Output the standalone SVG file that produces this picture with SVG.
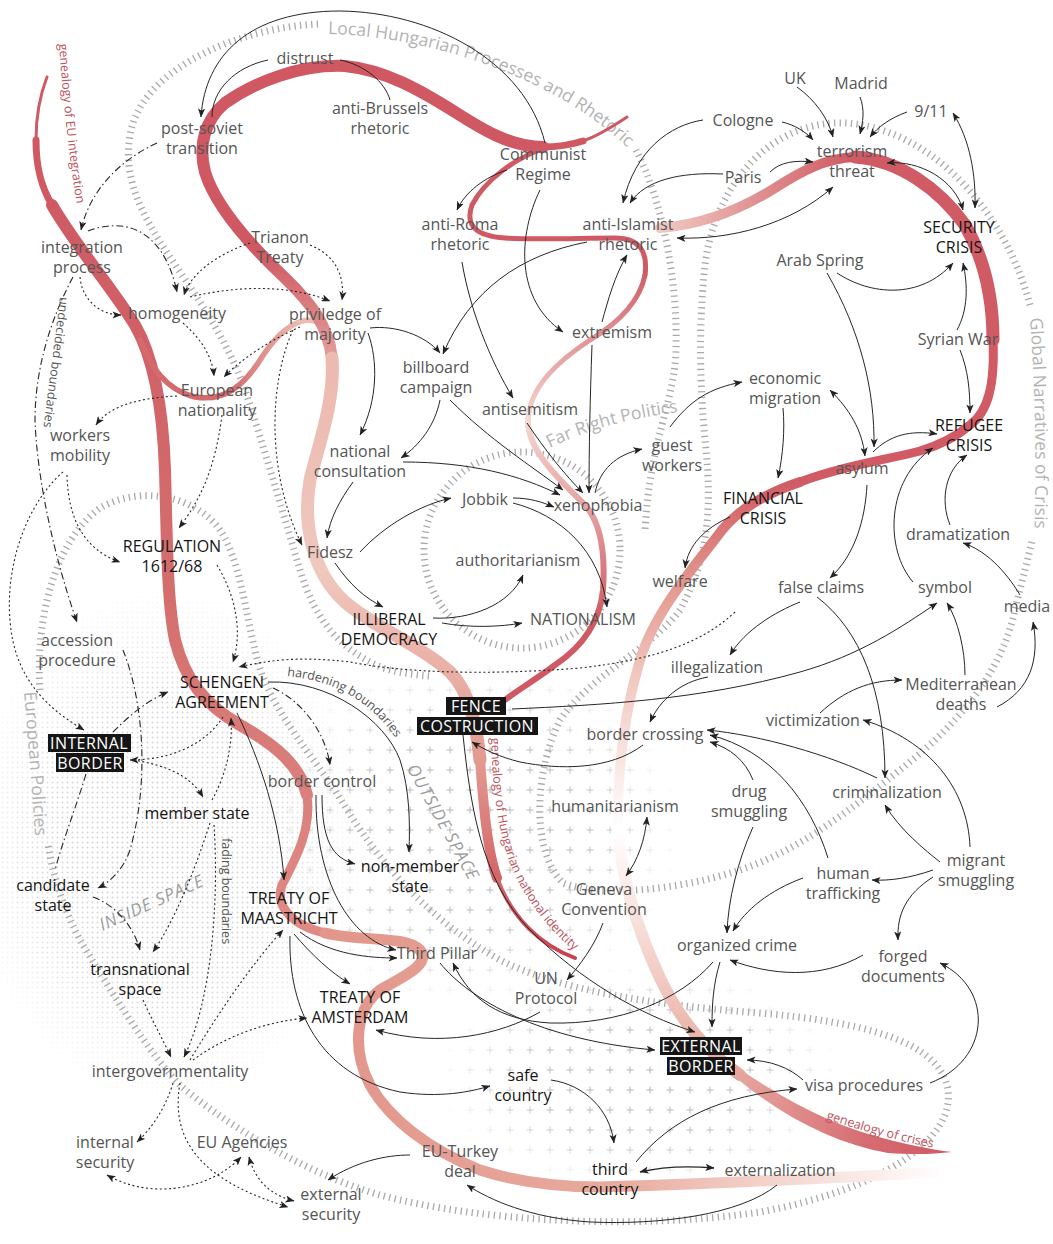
<svg xmlns="http://www.w3.org/2000/svg" width="1053" height="1244" viewBox="0 0 1053 1244">
<style>
.t{font-family:"Open Sans","Liberation Sans",sans-serif;font-size:16px;fill:#555;text-anchor:middle}
.k{fill:#151515}
.w{fill:#fff;letter-spacing:0.4px}
.box{fill:#151515}
.rl{font-family:"Open Sans","Liberation Sans",sans-serif;font-size:17.5px;fill:#b3b3b3}
.sm{font-family:"Open Sans","Liberation Sans",sans-serif;font-size:12.5px;fill:#555}
.gn{font-family:"Open Sans","Liberation Sans",sans-serif;font-size:12.5px;fill:#c0505a}
.sp{font-family:"Open Sans","Liberation Sans",sans-serif;font-size:17px;font-style:italic;fill:#9c9c9c;letter-spacing:1px;text-anchor:middle}
.tk{fill:none;stroke:#a9a9a9;stroke-width:7;stroke-dasharray:1.3 4.3}
.c{fill:none;stroke:#262626;stroke-width:1}
.d{fill:none;stroke:#262626;stroke-width:1.1;stroke-dasharray:2 2.6}
.dd{fill:none;stroke:#262626;stroke-width:1.1;stroke-dasharray:7 3 1.5 3}
.e{marker-end:url(#ah)}
.s{marker-start:url(#ah)}
.rb{fill:none;stroke-linecap:round}
</style>
<defs>
<marker id="ah" viewBox="0 0 10 8" refX="9.5" refY="4" markerWidth="9" markerHeight="7.2" markerUnits="userSpaceOnUse" orient="auto-start-reverse"><path d="M0,0 L10,4 L0,8 L2.5,4 z" fill="#222"/></marker>
<pattern id="dots" width="5" height="5" patternUnits="userSpaceOnUse"><circle cx="2.5" cy="2.5" r="0.95" fill="#cdcdcd"/></pattern>
<pattern id="plus" width="20" height="20" patternUnits="userSpaceOnUse"><path d="M10,6.5v7M6.5,10h7" stroke="#b3b3b3" stroke-width="1"/></pattern>
<radialGradient id="rf"><stop offset="0" stop-color="#fff" stop-opacity="1"/><stop offset="0.55" stop-color="#fff" stop-opacity="0.85"/><stop offset="1" stop-color="#fff" stop-opacity="0"/></radialGradient>
<mask id="mDots" maskUnits="userSpaceOnUse" x="0" y="0" width="1053" height="1244"><ellipse cx="165" cy="845" rx="200" ry="260" fill="url(#rf)"/></mask>
<mask id="mPlus" maskUnits="userSpaceOnUse" x="0" y="0" width="1053" height="1244"><ellipse cx="470" cy="830" rx="215" ry="180" fill="url(#rf)"/><ellipse cx="640" cy="1078" rx="205" ry="115" fill="url(#rf)"/></mask>
<linearGradient id="gR1c" gradientUnits="userSpaceOnUse" x1="0" y1="200" x2="0" y2="930"><stop offset="0" stop-color="#cf5a63"/><stop offset="0.55" stop-color="#d46f6e"/><stop offset="1" stop-color="#df8b85"/></linearGradient>
<linearGradient id="gR1d" gradientUnits="userSpaceOnUse" x1="350" y1="0" x2="945" y2="0"><stop offset="0" stop-color="#e3978c"/><stop offset="0.45" stop-color="#e8ab9f"/><stop offset="0.72" stop-color="#f4d6ce"/><stop offset="1" stop-color="#ffffff"/></linearGradient>
<linearGradient id="gR2b" gradientUnits="userSpaceOnUse" x1="0" y1="250" x2="0" y2="400"><stop offset="0" stop-color="#cf5862"/><stop offset="1" stop-color="#ecbab0"/></linearGradient>
<linearGradient id="gR2c" gradientUnits="userSpaceOnUse" x1="0" y1="380" x2="0" y2="760"><stop offset="0" stop-color="#ecbab0"/><stop offset="0.5" stop-color="#f0c8be"/><stop offset="1" stop-color="#e39a90"/></linearGradient>
<linearGradient id="gR2d" gradientUnits="userSpaceOnUse" x1="0" y1="760" x2="0" y2="958"><stop offset="0" stop-color="#e39a90"/><stop offset="0.5" stop-color="#d66e70"/><stop offset="1" stop-color="#c9404e"/></linearGradient>
<linearGradient id="gR3b" gradientUnits="userSpaceOnUse" x1="0" y1="270" x2="0" y2="420"><stop offset="0" stop-color="#d05a63"/><stop offset="1" stop-color="#f5d9d2"/></linearGradient>
<linearGradient id="gR3c" gradientUnits="userSpaceOnUse" x1="0" y1="420" x2="0" y2="620"><stop offset="0" stop-color="#f5d9d2"/><stop offset="1" stop-color="#d05a63"/></linearGradient>
<linearGradient id="gR4a" gradientUnits="userSpaceOnUse" x1="660" y1="0" x2="850" y2="0"><stop offset="0" stop-color="#f0c9c1"/><stop offset="1" stop-color="#d05b64"/></linearGradient>
<linearGradient id="gR4d" gradientUnits="userSpaceOnUse" x1="0" y1="482" x2="0" y2="830"><stop offset="0" stop-color="#d05b64"/><stop offset="0.25" stop-color="#e08f88"/><stop offset="0.55" stop-color="#f1c6be"/><stop offset="1" stop-color="#ffffff"/></linearGradient>
<linearGradient id="gR4e" gradientUnits="userSpaceOnUse" x1="0" y1="830" x2="0" y2="1075"><stop offset="0" stop-color="#ffffff"/><stop offset="0.35" stop-color="#f8e2dd"/><stop offset="0.75" stop-color="#eebdb4"/><stop offset="1" stop-color="#e6a59c"/></linearGradient>
<linearGradient id="gR4f" gradientUnits="userSpaceOnUse" x1="740" y1="0" x2="950" y2="0"><stop offset="0" stop-color="#e6a59c"/><stop offset="0.6" stop-color="#d66c72"/><stop offset="1" stop-color="#cf5863"/></linearGradient>
<linearGradient id="gR5" gradientUnits="userSpaceOnUse" x1="230" y1="0" x2="300" y2="0"><stop offset="0" stop-color="#d46a6c"/><stop offset="1" stop-color="#ecbcb1"/></linearGradient>
<path id="tpL" d="M328,34 C430,36 555,78 628,148"/>
<path id="tpG" d="M1030,318 C1035,390 1037,460 1034,545"/>
<path id="tpE" d="M24,692 C28,740 32,790 36,850"/>
<path id="tpF" d="M550,448 Q607,419 696,410"/>
<path id="tpH" d="M287,676 C330,680 370,698 398,742"/>
<path id="tpFa" d="M222,838 L222,960"/>
<path id="tpU" d="M60,297 C55,340 48,390 42,440"/>
<path id="tpGE" d="M59,44 C63,100 69,160 79,218"/>
<path id="tpGH" d="M491,738 C493,800 500,850 520,885 C540,920 560,940 592,966"/>
<path id="tpGC" d="M826,1119 C860,1130 900,1142 950,1151"/>
</defs>
<rect width="1053" height="1244" fill="#fff"/>

<g id="textures">
<rect x="0" y="560" width="400" height="580" fill="url(#dots)" mask="url(#mDots)"/>
<rect x="230" y="620" width="650" height="600" fill="url(#plus)" mask="url(#mPlus)"/>
</g>

<g id="rings">
<path class="tk" d="M318,24 C240,28 155,65 134,120 C122,155 130,190 150,225 C175,270 220,320 245,390 C265,450 285,520 300,570 C315,620 340,650 383,668 C400,673 415,675 430,676"/>
<path class="tk" d="M636,150 C662,200 678,280 676,350 C675,400 650,440 645,530"/>
<path class="tk" d="M1030,305 C1005,210 930,128 845,123 C770,120 715,185 705,265 C698,330 700,390 706,450 C712,510 708,560 680,610 C650,650 590,675 560,720 C535,770 530,850 563,883 C600,898 680,890 740,870 C800,850 850,810 900,770 C950,730 1000,680 1015,610 C1022,580 1028,560 1032,540"/>
<path class="tk" d="M40,690 C35,620 55,540 100,508 C140,485 195,495 220,530 C240,560 245,610 255,650 C265,700 300,740 335,790 C370,850 420,915 500,960 C560,990 650,1005 760,1013 C860,1022 940,1040 948,1090 C955,1140 880,1190 760,1212 C640,1230 480,1222 380,1195 C300,1172 220,1120 180,1085 C150,1055 110,990 80,940 C65,910 55,885 48,845"/>
<circle class="tk" cx="522" cy="550" r="98"/>
<text class="rl"><textPath href="#tpL">Local Hungarian Processes and Rhetoric</textPath></text>
<text class="rl"><textPath href="#tpG">Global Narratives of Crisis</textPath></text>
<text class="rl"><textPath href="#tpE">European Policies</textPath></text>
<text class="rl"><textPath href="#tpF">Far Right Politics</textPath></text>
<text class="sp" transform="translate(154,908) rotate(-24)">INSIDE SPACE</text>
<text class="sp" transform="translate(438,825) rotate(61)">OUTSIDE SPACE</text>
</g>

<g id="ribbons">
<path class="rb" d="M47,77 C40,95 36,115 36,140" stroke="#cf5a63" stroke-width="3"/>
<path class="rb" d="M36,140 C36,165 40,185 52,205" stroke="#cf5a63" stroke-width="7"/>
<path class="rb" d="M52,205 C75,245 110,285 135,325 C155,360 163,410 165,470 C167,540 167,600 175,640 C185,680 205,705 240,725 C275,745 300,765 307,795" stroke="url(#gR1c)" stroke-width="12"/>
<path class="rb" d="M307,795 C312,830 295,860 282,885 C275,905 290,925 325,933" stroke="url(#gR1c)" stroke-width="9"/>
<path class="rb" d="M325,933 C360,942 405,935 420,950 C432,965 400,978 380,990 C355,1008 352,1050 370,1085 C390,1120 430,1150 480,1170 C520,1183 560,1187 600,1187 C700,1185 820,1178 945,1172" stroke="url(#gR1d)" stroke-width="11"/>
<path class="rb" d="M140,340 C150,365 165,390 195,397 C225,402 245,385 262,357 C275,337 290,322 308,320 C320,320 330,330 333,345" stroke="url(#gR5)" stroke-width="5.5"/>
<path class="rb" d="M627,117 C612,127 598,136 583,141" stroke="#cf5862" stroke-width="3"/>
<path class="rb" d="M583,141 C570,145 556,147 543,147" stroke="#cf5862" stroke-width="7"/>
<path class="rb" d="M543,147 C510,147 480,128 455,112 C420,90 385,70 345,66 C300,64 255,82 225,103 C205,120 198,145 205,172 C215,205 250,245 285,278 C310,302 328,325 332,358" stroke="url(#gR2b)" stroke-width="12"/>
<path class="rb" d="M332,358 C335,400 320,440 310,480 C303,520 310,570 345,602 C375,628 420,645 450,672 C468,690 476,720 480,760" stroke="url(#gR2c)" stroke-width="13"/>
<path class="rb" d="M480,760 C483,800 487,850 497,878" stroke="url(#gR2d)" stroke-width="10"/>
<path class="rb" d="M497,878 C512,918 540,945 575,958" stroke="url(#gR2d)" stroke-width="4"/>
<path class="rb" d="M545,148 C515,158 485,180 472,205 C465,225 475,236 505,238 C540,240 580,238 615,238 C640,238 648,252 645,275" stroke="#d05a63" stroke-width="5"/>
<path class="rb" d="M645,275 C640,300 620,322 590,340 C560,360 530,385 528,420" stroke="url(#gR3b)" stroke-width="5"/>
<path class="rb" d="M528,420 C527,450 560,480 585,505 C603,525 605,560 603,590 C600,620 585,645 555,665 C535,680 515,692 505,700" stroke="url(#gR3c)" stroke-width="6"/>
<path class="rb" d="M660,228 C700,225 740,210 775,188 C800,172 825,158 855,157" stroke="url(#gR4a)" stroke-width="10"/>
<path class="rb" d="M855,157 C900,160 940,190 965,225 C985,260 993,300 993,340" stroke="#d05b64" stroke-width="13"/>
<path class="rb" d="M993,340 C995,385 988,412 970,425 C955,438 940,445 920,451 C880,461 840,467 800,482" stroke="#d05b64" stroke-width="9"/>
<path class="rb" d="M800,482 C770,492 740,508 722,530 C700,560 655,610 640,660 C625,710 617,770 618,830" stroke="url(#gR4d)" stroke-width="10"/>
<path class="rb" d="M618,830 C622,885 640,935 660,978 C680,1020 705,1050 740,1075" stroke="url(#gR4e)" stroke-width="12"/>
<path d="M740,1069 C790,1104 840,1128 890,1140 C915,1146 935,1150 952,1152 C935,1154 915,1155 888,1153 C838,1144 788,1120 740,1081 Z" fill="url(#gR4f)"/>
<text class="gn"><textPath href="#tpGE">genealogy of EU integration</textPath></text>
<text class="gn"><textPath href="#tpGH">genealogy of Hungarian national identity</textPath></text>
<text class="gn"><textPath href="#tpGC">genealogy of crises</textPath></text>
</g>

<g id="connectors">
<path class="c e" d="M545,143 C525,60 430,12 340,11 C250,11 205,55 201,117"/>
<path class="c" d="M212,117 C212,90 235,67 268,60"/>
<path class="c" d="M340,60 C365,65 385,82 390,100"/>
<path class="dd e" d="M157,143 C120,160 90,190 81,230"/>
<path class="dd e" d="M88,231 C130,215 165,235 177,292"/>
<path class="d e" d="M80,277 C82,300 100,315 121,315"/>
<path class="d e" d="M250,243 C215,255 190,275 184,295"/>
<path class="d e" d="M310,245 C335,255 345,275 342,300"/>
<path class="d e" d="M190,297 C240,285 290,285 330,301"/>
<path class="d e" d="M183,323 C200,338 212,355 214,376"/>
<path class="d e" d="M300,327 C270,340 240,360 224,377"/>
<path class="d e" d="M293,330 C270,380 265,470 302,545"/>
<path class="d e" d="M177,396 C140,398 110,405 96,425"/>
<path class="d e" d="M222,415 C215,470 200,500 179,528"/>
<path class="d e" d="M67,475 C68,520 85,550 120,562"/>
<path class="d e" d="M63,472 C30,500 5,560 10,620 C14,680 50,710 84,730"/>
<path class="dd e" d="M73,277 C50,320 35,370 35,420 C37,480 55,560 77,622"/>
<path class="dd e" d="M123,650 C143,700 150,780 130,850 C123,870 110,882 98,888"/>
<path class="dd" d="M86,774 C75,810 63,840 55,870"/>
<path class="dd e" d="M113,732 C130,715 148,700 168,692"/>
<path class="d e" d="M223,717 C205,745 170,760 130,760"/>
<path class="d e" d="M133,760 C165,765 190,775 203,797"/>
<path class="d e" d="M212,800 C226,775 233,745 231,718"/>
<path class="d e" d="M210,823 C195,870 175,920 153,952"/>
<path class="d e" d="M214,825 C219,900 212,1000 184,1057"/>
<path class="dd e" d="M93,897 C115,905 133,925 140,950"/>
<path class="d e" d="M143,1000 C152,1020 162,1038 171,1057"/>
<path class="d e" d="M190,1060 C220,1010 255,960 283,930"/>
<path class="d e" d="M193,1060 C220,1040 260,1022 307,1018"/>
<path class="d e" d="M173,1083 C165,1110 150,1130 137,1142"/>
<path class="d e" d="M180,1083 C170,1140 200,1180 288,1207"/>
<path class="d s e" d="M107,1175 C150,1200 210,1190 241,1157"/>
<path class="d s e" d="M249,1157 C255,1180 270,1195 294,1201"/>
<path class="c e" d="M410,1155 C385,1155 355,1162 328,1180"/>
<path class="c e" d="M777,1185 C740,1215 660,1225 590,1222 C530,1218 490,1200 467,1185"/>
<path class="c s e" style="stroke-width:1.4" d="M640,1172 C665,1166 690,1166 714,1168"/>
<path class="c e" d="M551,1080 C585,1085 610,1110 614,1143"/>
<path class="c e" d="M636,1162 C670,1120 720,1095 797,1089"/>
<path class="c e" d="M803,1080 C790,1068 770,1060 747,1060"/>
<path class="c e" d="M930,1083 C990,1060 995,990 940,963"/>
<path class="c e" d="M863,955 C820,980 770,975 730,960"/>
<path class="c e" d="M933,877 C905,895 897,915 898,940"/>
<path class="c e" d="M933,870 C910,878 890,881 872,880"/>
<path class="c e" d="M803,878 C770,890 745,910 733,931"/>
<path class="c e" d="M753,827 C738,860 728,900 727,933"/>
<path class="c e" d="M720,962 C713,985 712,1005 712,1027"/>
<path class="c e" d="M713,962 C680,1000 620,1025 550,1023 C500,1020 470,1000 453,963"/>
<path class="c e" d="M440,963 C470,1000 540,1040 655,1050"/>
<path class="c e" d="M540,1012 C500,1035 440,1048 376,1030"/>
<path class="c e" d="M603,923 C595,945 580,965 567,980"/>
<path class="c s e" d="M647,817 C645,840 638,860 626,876"/>
<path class="c e" d="M463,735 C470,800 480,880 530,930 C580,980 640,1015 695,1032"/>
<path class="c e" d="M643,745 C610,770 560,770 520,762 C500,757 485,750 472,742"/>
<path class="c e" d="M512,709 C600,705 700,700 800,672 C860,655 900,628 937,603"/>
<path class="c e" d="M708,677 C680,682 660,700 650,722"/>
<path class="c e" d="M800,602 C775,612 745,630 730,655"/>
<path class="c e" d="M817,597 C860,630 885,690 885,778"/>
<path class="c e" d="M867,485 C865,520 855,555 830,578"/>
<path class="c e" d="M827,273 C860,330 875,390 874,447"/>
<path class="c s e" d="M830,390 C850,410 862,430 865,456"/>
<path class="c e" d="M837,273 C870,295 920,300 953,263"/>
<path class="c e" d="M957,330 C968,310 968,285 963,263"/>
<path class="c e" d="M960,350 C968,370 970,390 970,413"/>
<path class="c e" d="M873,452 C890,435 910,430 937,434"/>
<path class="c e" d="M913,582 C885,550 885,480 933,448"/>
<path class="c e" d="M950,525 C940,500 945,470 967,455"/>
<path class="c e" d="M1020,595 C1005,570 985,550 963,543"/>
<path class="c e" d="M997,707 C1030,690 1040,660 1033,622"/>
<path class="c e" d="M965,675 C965,650 958,620 947,603"/>
<path class="c e" d="M820,713 C845,690 870,680 902,680"/>
<path class="c e" d="M970,847 C968,790 930,740 863,720"/>
<path class="c e" d="M940,862 C925,850 900,830 885,805"/>
<path class="c e" d="M877,778 C830,755 760,735 707,730"/>
<path class="c e" d="M753,780 C745,760 730,748 710,742"/>
<path class="c e" d="M828,858 C810,800 770,750 710,735"/>
<path class="c e" d="M797,87 C815,100 828,118 833,137"/>
<path class="c e" d="M860,97 C865,110 863,122 860,134"/>
<path class="c e" d="M907,112 C890,118 878,127 870,137"/>
<path class="c s e" d="M953,113 C970,140 976,175 975,208"/>
<path class="c s e" d="M887,163 C920,160 955,180 963,210"/>
<path class="c e" d="M782,122 C795,125 806,132 813,140"/>
<path class="c e" d="M770,172 C780,162 795,160 813,162"/>
<path class="c e" d="M703,120 C670,125 635,150 623,203"/>
<path class="c e" d="M723,174 C680,172 645,180 630,203"/>
<path class="c s e" d="M833,187 C790,225 730,240 677,238"/>
<path class="c e" d="M587,242 C520,255 470,290 443,354"/>
<path class="c e" d="M507,170 C485,177 465,192 457,210"/>
<path class="c e" d="M540,190 C518,235 515,300 563,332"/>
<path class="c e" d="M602,322 C608,300 615,275 627,255"/>
<path class="c e" d="M462,262 C470,310 490,360 513,398"/>
<path class="c e" d="M370,328 C395,325 425,335 440,353"/>
<path class="c e" d="M368,333 C378,360 378,400 360,435"/>
<path class="c e" d="M440,400 C435,425 420,445 401,458"/>
<path class="c e" d="M450,400 C490,440 530,465 563,490"/>
<path class="c e" d="M403,462 C470,462 520,475 560,495"/>
<path class="c e" d="M527,423 C545,450 565,475 583,493"/>
<path class="c e" d="M592,345 C590,400 589,450 589,493"/>
<path class="c e" d="M595,493 C600,470 615,455 642,449"/>
<path class="c e" d="M670,427 C690,400 710,388 742,382"/>
<path class="c e" d="M783,408 C785,430 783,455 778,478"/>
<path class="c e" d="M730,517 C705,528 688,545 685,568"/>
<path class="d e" d="M735,612 C700,645 650,660 580,668 C480,676 400,672 350,662 C300,656 270,660 239,667"/>
<path class="d e" d="M217,565 C235,595 243,630 233,662"/>
<path class="dd e" d="M273,688 C300,700 325,730 330,765"/>
<path class="c e" d="M268,682 C330,680 385,720 400,760 C410,790 410,825 409,852"/>
<path class="c e" d="M237,713 C260,760 280,820 284,880"/>
<path class="c e" d="M322,795 C322,840 332,858 355,864"/>
<path class="c e" d="M316,795 C315,880 350,940 396,950"/>
<path class="c e" d="M300,932 C330,955 370,958 397,958"/>
<path class="c e" d="M294,934 C312,955 330,972 350,984"/>
<path class="c e" d="M290,936 C288,1010 320,1075 400,1092 C440,1098 470,1092 490,1086"/>
<path class="c e" d="M353,482 C340,500 330,518 327,538"/>
<path class="c e" d="M360,552 C385,525 420,505 451,498"/>
<path class="c e" d="M513,498 C530,498 542,502 554,507"/>
<path class="c e" d="M513,503 C560,515 600,550 607,607"/>
<path class="c e" d="M335,563 C350,585 365,598 383,607"/>
<path class="c e" d="M433,618 C470,620 510,605 523,575"/>
<path class="c e" d="M442,623 C470,628 500,627 522,623"/>
<text class="sm"><textPath href="#tpH">hardening boundaries</textPath></text>
<text class="sm"><textPath href="#tpFa">fading boundaries</textPath></text>
<text class="sm"><textPath href="#tpU">undecided boundaries</textPath></text>
</g>

<g id="nodes">
<g id="n-distrust"><text class="t" x="305" y="64">distrust</text></g>
<g id="n-anti-brussels"><text class="t" x="380" y="114">anti-Brussels<tspan x="380" dy="20">rhetoric</tspan></text></g>
<g id="n-post-soviet"><text class="t" x="202" y="134">post-soviet<tspan x="202" dy="20">transition</tspan></text></g>
<g id="n-communist"><text class="t" x="543" y="160">Communist<tspan x="543" dy="20">Regime</tspan></text></g>
<g id="n-integration"><text class="t" x="82" y="253">integration<tspan x="82" dy="20">process</tspan></text></g>
<g id="n-trianon"><text class="t" x="280" y="243">Trianon<tspan x="280" dy="20">Treaty</tspan></text></g>
<g id="n-homogeneity"><text class="t" x="177" y="319">homogeneity</text></g>
<g id="n-priviledge"><text class="t" x="335" y="320">priviledge of<tspan x="335" dy="20">majority</tspan></text></g>
<g id="n-european-nationality"><text class="t" x="217" y="396">European<tspan x="217" dy="20">nationality</tspan></text></g>
<g id="n-workers-mobility"><text class="t" x="80" y="441">workers<tspan x="80" dy="20">mobility</tspan></text></g>
<g id="n-anti-roma"><text class="t" x="460" y="230">anti-Roma<tspan x="460" dy="20">rhetoric</tspan></text></g>
<g id="n-anti-islamist"><text class="t" x="628" y="230">anti-Islamist<tspan x="628" dy="20">rhetoric</tspan></text></g>
<g id="n-billboard"><text class="t" x="436" y="373">billboard<tspan x="436" dy="20">campaign</tspan></text></g>
<g id="n-extremism"><text class="t" x="612" y="338">extremism</text></g>
<g id="n-antisemitism"><text class="t" x="530" y="415">antisemitism</text></g>
<g id="n-national-consultation"><text class="t" x="360" y="457">national<tspan x="360" dy="20">consultation</tspan></text></g>
<g id="n-jobbik"><text class="t" x="485" y="505">Jobbik</text></g>
<g id="n-xenophobia"><text class="t" x="598" y="511">xenophobia</text></g>
<g id="n-guest-workers"><text class="t" x="672" y="451">guest<tspan x="672" dy="20">workers</tspan></text></g>
<g id="n-fidesz"><text class="t" x="330" y="558">Fidesz</text></g>
<g id="n-authoritarianism"><text class="t" x="518" y="566">authoritarianism</text></g>
<g id="n-illiberal"><text class="t k" x="389" y="625">ILLIBERAL<tspan x="389" dy="20">DEMOCRACY</tspan></text></g>
<g id="n-nationalism"><text class="t" x="583" y="625">NATIONALISM</text></g>
<g id="n-regulation"><text class="t k" x="172" y="552">REGULATION<tspan x="172" dy="20">1612/68</tspan></text></g>
<g id="n-accession"><text class="t" x="77" y="646">accession<tspan x="77" dy="20">procedure</tspan></text></g>
<g id="n-schengen"><text class="t k" x="222" y="688">SCHENGEN<tspan x="222" dy="20">AGREEMENT</tspan></text></g>
<g id="n-internal-border"><rect class="box" x="48" y="734" width="83" height="18"/><rect class="box" x="56" y="753" width="68" height="19"/><text class="t w" x="89" y="748.5">INTERNAL<tspan x="90" dy="20">BORDER</tspan></text></g>
<g id="n-border-control"><text class="t" x="322" y="787">border control</text></g>
<g id="n-member-state"><text class="t k" x="197" y="819">member state</text></g>
<g id="n-candidate-state"><text class="t k" x="53" y="891">candidate<tspan x="53" dy="20">state</tspan></text></g>
<g id="n-non-member"><text class="t k" x="410" y="872">non-member<tspan x="410" dy="20">state</tspan></text></g>
<g id="n-maastricht"><text class="t k" x="289" y="904">TREATY OF<tspan x="289" dy="20">MAASTRICHT</tspan></text></g>
<g id="n-transnational"><text class="t k" x="140" y="975">transnational<tspan x="140" dy="20">space</tspan></text></g>
<g id="n-third-pillar"><text class="t" x="437" y="959">Third Pillar</text></g>
<g id="n-un-protocol"><text class="t" x="546" y="984">UN<tspan x="546" dy="20">Protocol</tspan></text></g>
<g id="n-amsterdam"><text class="t k" x="360" y="1003">TREATY OF<tspan x="360" dy="20">AMSTERDAM</tspan></text></g>
<g id="n-intergov"><text class="t" x="170" y="1077">intergovernmentality</text></g>
<g id="n-safe-country"><text class="t k" x="523" y="1081">safe<tspan x="523" dy="20">country</tspan></text></g>
<g id="n-internal-security"><text class="t" x="105" y="1148">internal<tspan x="105" dy="20">security</tspan></text></g>
<g id="n-eu-agencies"><text class="t" x="242" y="1148">EU Agencies</text></g>
<g id="n-eu-turkey"><text class="t" x="460" y="1157">EU-Turkey<tspan x="460" dy="20">deal</tspan></text></g>
<g id="n-third-country"><text class="t k" x="610" y="1175">third<tspan x="610" dy="20">country</tspan></text></g>
<g id="n-externalization"><text class="t" x="780" y="1176">externalization</text></g>
<g id="n-external-security"><text class="t" x="331" y="1200">external<tspan x="331" dy="20">security</tspan></text></g>
<g id="n-external-border"><rect class="box" x="660" y="1037" width="82" height="18"/><rect class="box" x="667" y="1057" width="68" height="18"/><text class="t w" x="701" y="1051.5">EXTERNAL<tspan x="701" dy="20">BORDER</tspan></text></g>
<g id="n-visa"><text class="t" x="864" y="1091">visa procedures</text></g>
<g id="n-fence"><rect class="box" x="446" y="697" width="60" height="18"/><rect class="box" x="417" y="717" width="121" height="18"/><text class="t w" x="476" y="711.5">FENCE<tspan x="477" dy="20">COSTRUCTION</tspan></text></g>
<g id="n-uk"><text class="t" x="795" y="84">UK</text></g>
<g id="n-madrid"><text class="t" x="861" y="89">Madrid</text></g>
<g id="n-911"><text class="t" x="931" y="117">9/11</text></g>
<g id="n-cologne"><text class="t" x="743" y="126">Cologne</text></g>
<g id="n-terrorism"><text class="t" x="852" y="157">terrorism<tspan x="852" dy="20">threat</tspan></text></g>
<g id="n-paris"><text class="t" x="743" y="183">Paris</text></g>
<g id="n-security-crisis"><text class="t k" x="959" y="233">SECURITY<tspan x="959" dy="20">CRISIS</tspan></text></g>
<g id="n-arab-spring"><text class="t" x="820" y="266">Arab Spring</text></g>
<g id="n-syrian-war"><text class="t" x="958" y="345">Syrian War</text></g>
<g id="n-economic-migration"><text class="t" x="785" y="384">economic<tspan x="785" dy="20">migration</tspan></text></g>
<g id="n-refugee-crisis"><text class="t k" x="969" y="431">REFUGEE<tspan x="969" dy="20">CRISIS</tspan></text></g>
<g id="n-asylum"><text class="t" x="862" y="474">asylum</text></g>
<g id="n-financial-crisis"><text class="t k" x="763" y="504">FINANCIAL<tspan x="763" dy="20">CRISIS</tspan></text></g>
<g id="n-dramatization"><text class="t" x="958" y="540">dramatization</text></g>
<g id="n-welfare"><text class="t" x="680" y="587">welfare</text></g>
<g id="n-false-claims"><text class="t" x="821" y="593">false claims</text></g>
<g id="n-symbol"><text class="t" x="945" y="593">symbol</text></g>
<g id="n-media"><text class="t" x="1027" y="612">media</text></g>
<g id="n-illegalization"><text class="t" x="717" y="673">illegalization</text></g>
<g id="n-mediterranean"><text class="t" x="961" y="690">Mediterranean<tspan x="961" dy="20">deaths</tspan></text></g>
<g id="n-victimization"><text class="t" x="813" y="726">victimization</text></g>
<g id="n-border-crossing"><text class="t" x="645" y="740">border crossing</text></g>
<g id="n-criminalization"><text class="t" x="887" y="798">criminalization</text></g>
<g id="n-drug-smuggling"><text class="t" x="749" y="797">drug<tspan x="749" dy="20">smuggling</tspan></text></g>
<g id="n-humanitarianism"><text class="t" x="615" y="812">humanitarianism</text></g>
<g id="n-human-trafficking"><text class="t" x="843" y="879">human<tspan x="843" dy="20">trafficking</tspan></text></g>
<g id="n-migrant-smuggling"><text class="t" x="976" y="866">migrant<tspan x="976" dy="20">smuggling</tspan></text></g>
<g id="n-geneva"><text class="t" x="604" y="895">Geneva<tspan x="604" dy="20">Convention</tspan></text></g>
<g id="n-organized-crime"><text class="t" x="737" y="951">organized crime</text></g>
<g id="n-forged"><text class="t" x="903" y="962">forged<tspan x="903" dy="20">documents</tspan></text></g>
</g>
</svg>
